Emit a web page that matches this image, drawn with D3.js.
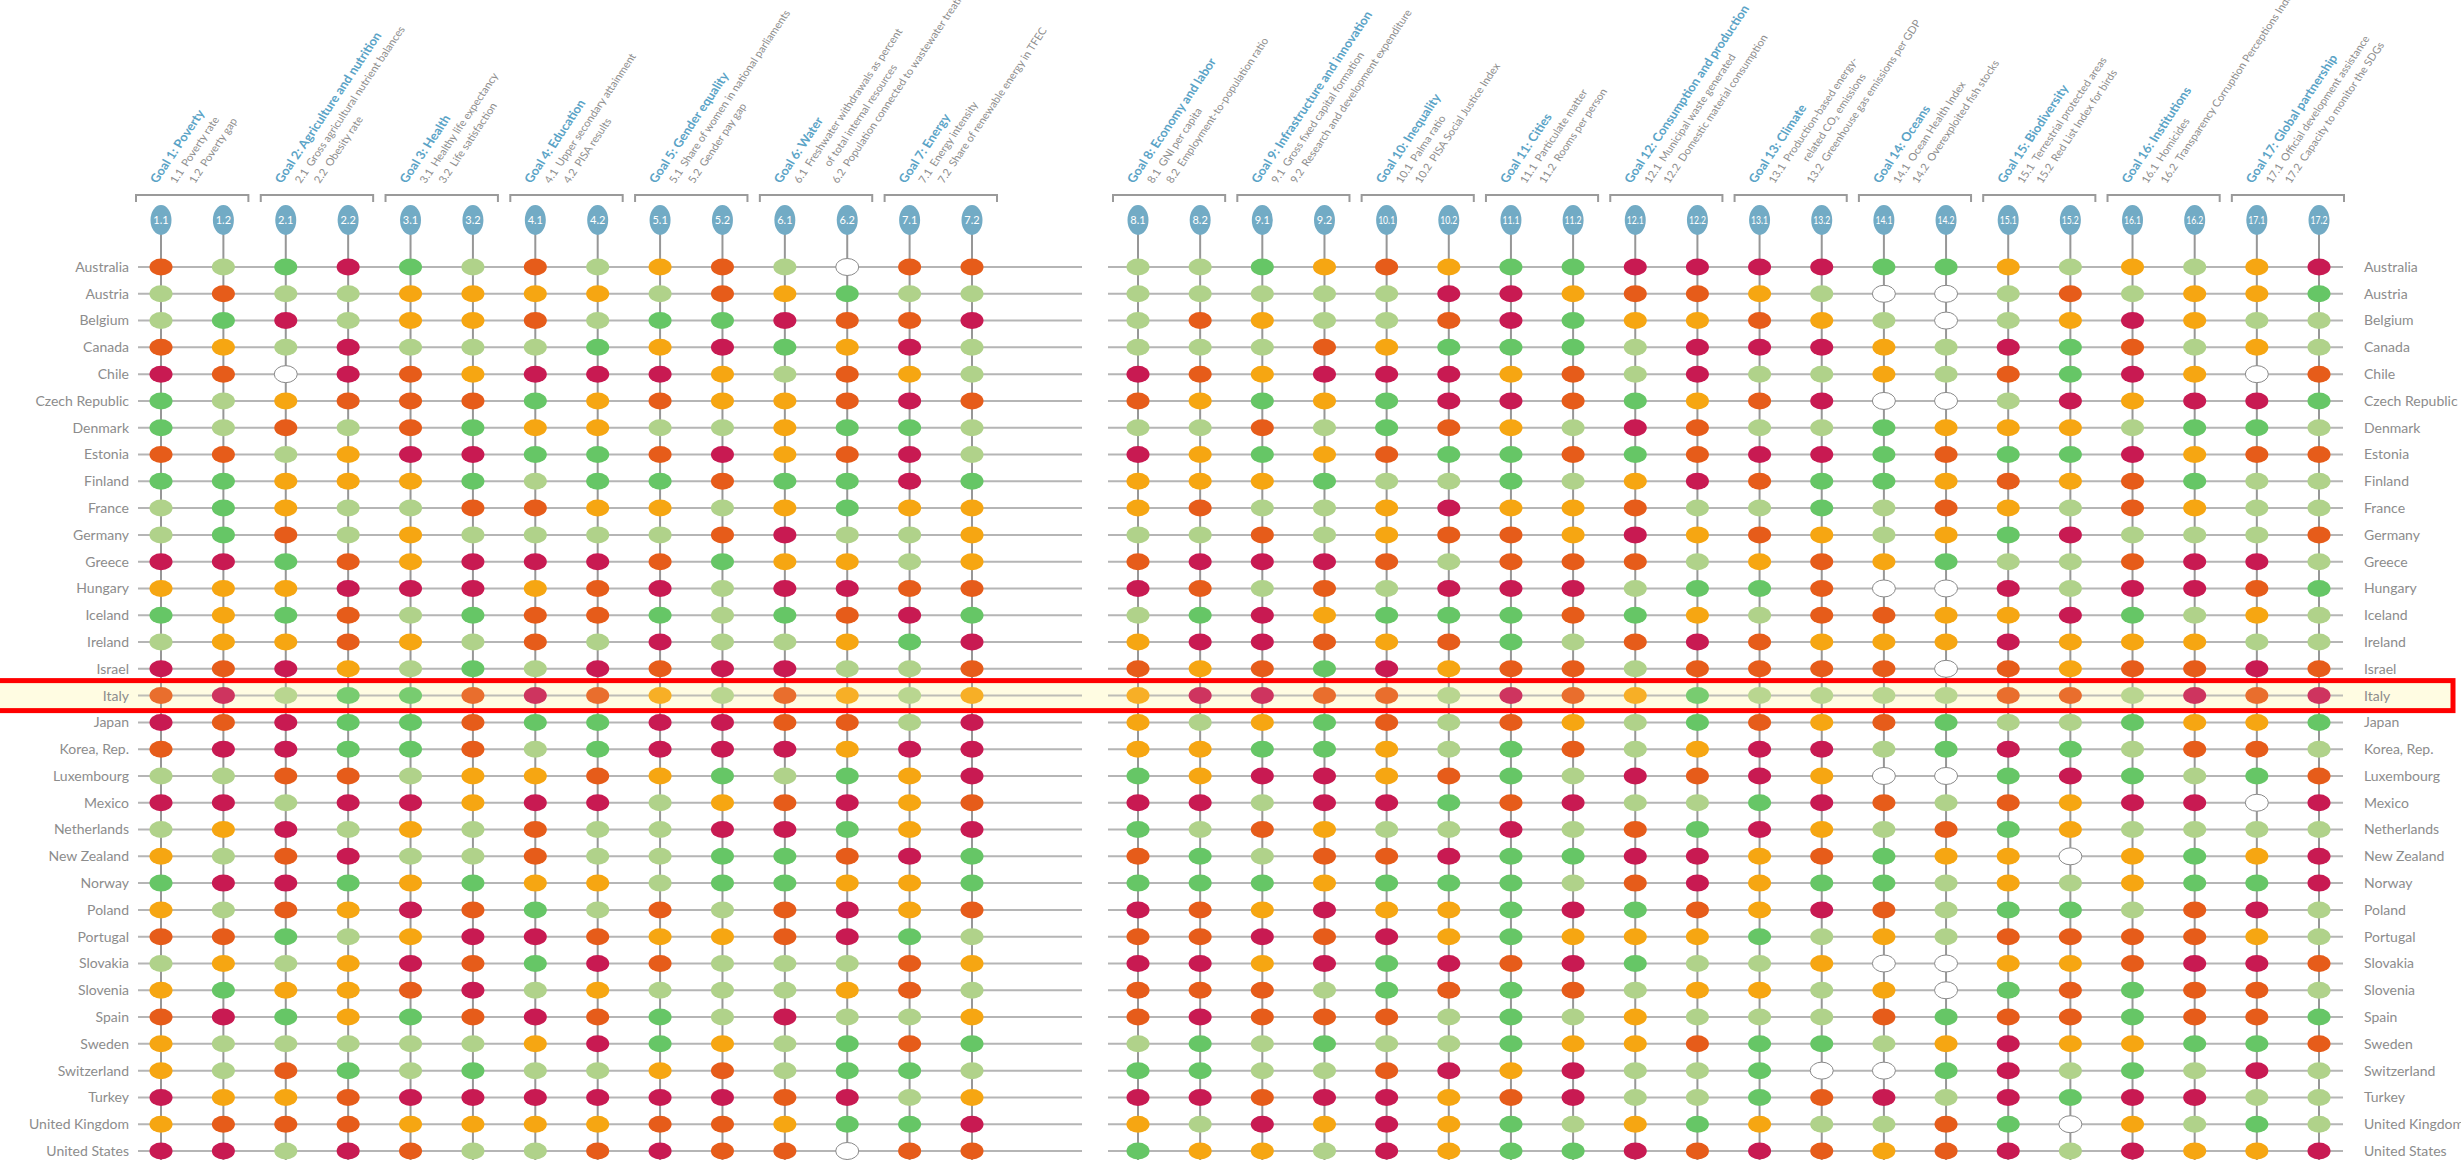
<!DOCTYPE html>
<html lang="en">
<head>
<meta charset="UTF-8">
<title>SDG Index - OECD dashboard</title>
<script src="https://d3js.org/d3.v7.min.js"></script>
<style>
  body { margin: 0; background: #fff; }
  svg { display: block; font-family: Lato, "Open Sans", sans-serif; }
  .country { fill: #8c8c8c; font-size: 14px; }
  .goal-title { fill: #5aa3c6; font-weight: bold; font-size: 12.5px; }
  .ind-text { fill: #8e8e8e; font-size: 10.8px; }
  .code-label { fill: #fff; font-size: 11px; }
</style>
</head>
<body>
<svg id="chart" width="2461" height="1160"></svg>
<script>
// indicator codes, left block (goals 1-7) and right block (goals 8-17)
const leftCodes = ["1.1","1.2","2.1","2.2","3.1","3.2","4.1","4.2","5.1","5.2","6.1","6.2","7.1","7.2"];
const rightCodes = ["8.1","8.2","9.1","9.2","10.1","10.2","11.1","11.2","12.1","12.2","13.1","13.2",
                    "14.1","14.2","15.1","15.2","16.1","16.2","17.1","17.2"];

const goalTitles = ["Goal 1: Poverty", "Goal 2: Agriculture and nutrition", "Goal 3: Health",
  "Goal 4: Education", "Goal 5: Gender equality", "Goal 6: Water", "Goal 7: Energy",
  "Goal 8: Economy and labor", "Goal 9: Infrastructure and innovation", "Goal 10: Inequality",
  "Goal 11: Cities", "Goal 12: Consumption and production", "Goal 13: Climate",
  "Goal 14: Oceans", "Goal 15: Biodiversity", "Goal 16: Institutions", "Goal 17:  Global partnership"];

// indicator names (extra entries are wrapped lines)
const indicatorNames = [
  ["Poverty rate"], ["Poverty gap"],
  ["Gross agricultural nutrient balances"], ["Obesity rate"],
  ["Healthy life expectancy"], ["Life satisfaction"],
  ["Upper secondary attainment"], ["PISA results"],
  ["Share of women in national parliaments"], ["Gender pay gap"],
  ["Freshwater withdrawals as percent", "of total internal resources"], ["Population connected to wastewater treatment"],
  ["Energy intensity"], ["Share of renewable energy in TFEC"],
  ["GNI per capita"], ["Employment-to-population ratio"],
  ["Gross fixed capital formation"], ["Research and development expenditure"],
  ["Palma ratio"], ["PISA Social Justice Index"],
  ["Particulate matter"], ["Rooms per person"],
  ["Municipal waste generated"], ["Domestic material consumption"],
  ["Production-based energy-", "related CO\u2082 emissions"], ["Greenhouse gas emissions per GDP"],
  ["Ocean Health Index"], ["Overexploited fish stocks"],
  ["Terrestrial protected areas"], ["Red List Index for birds"],
  ["Homicides"], ["Transparency Corruption Perceptions Index"],
  ["Official development assistance"], ["Capacity to monitor the SDGs"]
];

const countries = ["Australia","Austria","Belgium","Canada","Chile","Czech Republic","Denmark","Estonia",
  "Finland","France","Germany","Greece","Hungary","Iceland","Ireland","Israel","Italy","Japan",
  "Korea, Rep.","Luxembourg","Mexico","Netherlands","New Zealand","Norway","Poland","Portugal",
  "Slovakia","Slovenia","Spain","Sweden","Switzerland","Turkey","United Kingdom","United States"];

// G = best (dark green), L = light green, Y = yellow, O = orange, R = worst (red), N = no data
// one pair per goal, goals 1..17
const ratings = [
  "OL GR GL OL YO LN OO LL GY OY GG RR RR GG YL YL YR",
  "LO LL YY YY LO YG LL LL LL LR RY OO YL NN LO LY YG",
  "LG RL YY OL GG RO OR LO YL LO RG YY OY LN LY RY LL",
  "OY LR LL LG YR GY RL LL LO YG GG LR RR YL RG OL YL",
  "RO NR OY RR RY LO YL RO YR RR YO LR LL YL OG RY NO",
  "GL YO OO GY OY YO RO OY GY GR RO GY OR NN LR YR RG",
  "GL OL OG YY LL YG GL LL OL GO YL RO LL GY YY LG GL",
  "OO LY RR GG OR YO RL RY GY OG GO GO RR GO GG RY OO",
  "GG YY YG LG GO GG RG YY YG LL GL YR OG GY OY OG LL",
  "LG YL LO OY YL YG YY YO LL YR YY OL LG LO YL OY LL",
  "LG OL YL LL LO RL LY LL OL YO OY RY OY LY GR LL LO",
  "RR GO YR RR OG YY LY OR RR OL OO OL YO YG LL OR RL",
  "YY YR RR YO RL RR OO RO LO LR RR LG GO NN RL RR OG",
  "GY GO LG OO GL GO RG LG RY GG GO GY LO OY YR GL YL",
  "LY YO YL OL RL LY GR YR RO YO GL OR OY YY RY YY LL",
  "RO RY LG LR OR RL LO OY OG RY OO LO OO ON OY OO RO",
  "OR LG GO RO YL OY LY YR RO OL RO YG LL LL OO LR OR",
  "RO RG GO GG RR OO LR YL YG OL OY LG OY OG LL GY YG",
  "OR RG GO LG RR RY RR YY GG YL GO LY RR LG RG LO OL",
  "LL OO LY YO YG LG YR GY RR YO GL RO RY NN GR GL GO",
  "RR LR RY RR LY OR YO RR LR RG OR LL GR OL OY RR NR",
  "LY RL YL OL LR RG YR GL OY LL RL OG RY LO GY LL LL",
  "YL OR LL OL LG GO RG OG LO OR GG RR YO GY YN YG YR",
  "GR RG YG YY LG GY YG GG GY GG GL OR YG GL YL YG GR",
  "YL OY RO GL OL OR YO RO YR YY GR GO YR OL GG LO RL",
  "OO GL YR RO YY OR GL OO RO RY GY YY GL YL OO OO YL",
  "LY LY RO GR OL LL OY RR YR GR OR GL LY NN YY OR RO",
  "YG YY OR LY LL LY OL OO OL GO GO LY YL YN GO GO OL",
  "OR GY GO RO GL RL LY OR OO OL GL YL LL OG OO GO OG",
  "YL LL LL YR GY LG OG LG LG LL GY YO GG LY RY YG GO",
  "YL OG LG LL YO LG GL GG LL OR YR LL GN NG RL GL RL",
  "RY YO RR RR RR OR LY RR OR RY OR LL GO RL RG RR LL",
  "YO OO YY YY OO YG GR YL RY RY GL YG YL LO GN YL GL",
  "RR LR OL LO RO ON OO GY YL RY GG RO RO YO RL RY YR"
].map(s => s.replace(/ /g, "").split(""));

const ratingColor = { G: "#66c666", L: "#b0d28a", Y: "#f6a612", O: "#e65c1a", R: "#c81a52", N: "#ffffff" };
const highlight = "Italy";

const svg = d3.select("#chart");

// scales
const xLeft = d3.scalePoint().domain(leftCodes).range([161, 972]);
const xRight = d3.scalePoint().domain(rightCodes).range([1138, 2319]);
const allCodes = leftCodes.concat(rightCodes);
const x = c => leftCodes.includes(c) ? xLeft(c) : xRight(c);
const y = d3.scalePoint().domain(countries).range([267, 1151]);

const bottom = 1175;
const bubbleY = 220;

// highlighted row background
const hy = y(highlight);
svg.append("rect")
  .attr("x", -4).attr("y", hy - 15)
  .attr("width", 2457).attr("height", 30)
  .attr("fill", "#fffde8");

// row lines
const rows = svg.append("g").attr("stroke", "#b5b5b5").attr("stroke-width", 2);
rows.selectAll("line.l").data(countries).enter().append("line")
  .attr("x1", 138).attr("x2", 1082)
  .attr("y1", d => y(d)).attr("y2", d => y(d));
rows.selectAll("line.r").data(countries).enter().append("line")
  .attr("x1", 1108).attr("x2", 2343)
  .attr("y1", d => y(d)).attr("y2", d => y(d));

// column lines
svg.append("g").selectAll("line").data(allCodes).enter().append("line")
  .attr("x1", d => x(d)).attr("x2", d => x(d))
  .attr("y1", bubbleY).attr("y2", bottom)
  .attr("stroke", "#979797").attr("stroke-width", 2);

// cells
const cells = [];
countries.forEach((c, i) => ratings[i].forEach((r, j) => cells.push({ country: c, code: allCodes[j], r })));
svg.append("g").selectAll("ellipse").data(cells).enter().append("ellipse")
  .attr("cx", d => x(d.code)).attr("cy", d => y(d.country))
  .attr("rx", 11.5).attr("ry", 8.5)
  .attr("fill", d => ratingColor[d.r])
  .attr("stroke", d => d.r === "N" ? "#8a8a8a" : "none")
  .attr("stroke-width", 1);

// highlight outline
svg.append("rect")
  .attr("x", -4).attr("y", hy - 15)
  .attr("width", 2457).attr("height", 30)
  .attr("fill", "#fff7c0").attr("fill-opacity", 0.12)
  .attr("stroke", "#ff0000").attr("stroke-width", 5);

// country labels
svg.append("g").selectAll("text").data(countries).enter().append("text")
  .attr("class", "country")
  .attr("x", 129).attr("y", d => y(d)).attr("dy", "0.35em")
  .attr("text-anchor", "end").text(d => d);
svg.append("g").selectAll("text").data(countries).enter().append("text")
  .attr("class", "country")
  .attr("x", 2364).attr("y", d => y(d)).attr("dy", "0.35em")
  .text(d => d);

// header: brackets + code bubbles
const goals = goalTitles.map((t, g) => ({ title: t, codes: allCodes.slice(g * 2, g * 2 + 2), idx: g }));
svg.append("g").selectAll("path").data(goals).enter().append("path")
  .attr("d", d => `M${x(d.codes[0]) - 25},202V195H${x(d.codes[1]) + 25}V202`)
  .attr("fill", "none").attr("stroke", "#9a9a9a").attr("stroke-width", 2);

const bub = svg.append("g").selectAll("g").data(allCodes).enter().append("g")
  .attr("transform", d => `translate(${x(d)},${bubbleY})`);
bub.append("ellipse").attr("rx", 10.5).attr("ry", 15).attr("fill", "#72abc5");
bub.append("text").attr("class", "code-label").attr("text-anchor", "middle")
  .attr("dy", "0.35em")
  .attr("textLength", d => d.length > 3 ? 17 : null)
  .attr("lengthAdjust", "spacingAndGlyphs")
  .text(d => d);

// header text: baseline climbs at 56deg, glyphs slightly slanted,
// each new line starts on the same horizontal, ~19px further right
const ang = 56 * Math.PI / 180;
const phi = 30 * Math.PI / 180;
const lineH = 15.8;
const shift = Math.sin(phi) / Math.sin(ang);   // slide along baseline to keep line starts level
goals.forEach(g => {
  const gx = x(g.codes[0]) - 4;
  const grp = svg.append("g")
    .attr("transform", `translate(${gx},184) matrix(${Math.cos(ang)},${-Math.sin(ang)},${Math.cos(phi)},${Math.sin(phi)},0,0)`);
  grp.append("text").attr("class", "goal-title").attr("x", 0).attr("y", 0).text(g.title);
  let line = 1;
  g.codes.forEach(code => {
    const k = allCodes.indexOf(code);
    const t = grp.append("text").attr("class", "ind-text").attr("y", line * lineH);
    const codeSpan = t.append("tspan").attr("x", line * lineH * shift).text(code);
    const indent = codeSpan.node().getComputedTextLength() + 5;
    indicatorNames[k].forEach((nm, m) => {
      if (m === 0) {
        t.append("tspan").attr("x", line * lineH * shift + indent).text(nm);
      } else {
        grp.append("text").attr("class", "ind-text")
          .attr("x", (line + m) * lineH * shift + indent)
          .attr("y", (line + m) * lineH).text(nm);
      }
    });
    line += indicatorNames[k].length;
  });
});
</script>
</body>
</html>
